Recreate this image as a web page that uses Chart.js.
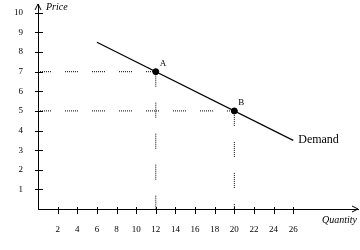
<!DOCTYPE html>
<html lang="en">
<head>
    <meta charset="UTF-8">
    <title>Demand</title>
    <script src="https://cdn.jsdelivr.net/npm/chart.js"></script>
    <style>
        * { margin: 0; padding: 0; box-sizing: border-box; }
        body { background: #fff; width: 360px; height: 250px; overflow: hidden; }
        #chart { display: block; }
    </style>
</head>
<body>
    <canvas id="chart" width="360" height="250"></canvas>

    <script>
        // values
        const demandQ = [6, 26];
        const demandP = [8.5, 3.5];
        const pointNames = ['A', 'B'];
        const pointQ = [12, 20];
        const pointP = [7, 5];
        const xTicks = [2, 4, 6, 8, 10, 12, 14, 16, 18, 20, 22, 24, 26, 28, 30];
        const xTickLabels = [2, 4, 6, 8, 10, 12, 14, 16, 18, 20, 22, 24, 26];
        const yTicks = [1, 2, 3, 4, 5, 6, 7, 8, 9, 10];

        const serif = "'Liberation Serif', 'Times New Roman', serif";
        const hDash = [1, 1, 1, 1, 1, 1, 1, 1, 1, 1, 1, 1, 1, 14];
        const vDash = [1, 1, 1, 1, 1, 1, 1, 1, 1, 1, 1, 1, 1, 1, 1, 16];

        // dotted guides from each point to the axes
        const guides = [];
        pointQ.forEach((q, i) => {
            guides.push({ data: [{ x: 0, y: pointP[i] }, { x: q, y: pointP[i] }], borderDash: hDash });
            guides.push({ data: [{ x: q, y: pointP[i] }, { x: q, y: 0 }], borderDash: vDash });
        });

        const axisDecor = {
            id: 'axisDecor',
            afterDraw(chart) {
                const c = chart.ctx, xs = chart.scales.x, ys = chart.scales.y;
                const x0 = xs.getPixelForValue(0), y0 = ys.getPixelForValue(0);
                const xEnd = chart.chartArea.right, yEnd = chart.chartArea.top;
                c.save();
                c.strokeStyle = '#000';
                c.lineWidth = 1;
                c.beginPath();
                // cross ticks
                xs.ticks.forEach(t => {
                    const px = Math.round(xs.getPixelForValue(t.value)) + 0.5;
                    c.moveTo(px, y0 - 2); c.lineTo(px, y0 + 5);
                });
                ys.ticks.forEach(t => {
                    const py = Math.round(ys.getPixelForValue(t.value)) + 0.5;
                    c.moveTo(x0 - 3, py); c.lineTo(x0 + 5, py);
                });
                // arrow heads
                c.moveTo(x0 - 3, yEnd + 6); c.lineTo(x0, yEnd); c.lineTo(x0 + 3, yEnd + 6);
                c.moveTo(xEnd - 6, y0 - 3); c.lineTo(xEnd, y0); c.lineTo(xEnd - 6, y0 + 3);
                c.stroke();

                c.fillStyle = '#000';
                c.textBaseline = 'middle';
                c.font = 'italic 10px ' + serif;
                c.fillText('Price', x0 + 8, yEnd + 3);
                c.fillText('Quantity', xEnd - 36, y0 + 11);
                c.font = '9px ' + serif;
                pointNames.forEach((n, i) => {
                    c.fillText(n, xs.getPixelForValue(pointQ[i]) + 4, ys.getPixelForValue(pointP[i]) - 8);
                });
                c.font = '12px ' + serif;
                c.fillText('Demand', xs.getPixelForValue(demandQ[1]) + 5, ys.getPixelForValue(demandP[1]));
                c.restore();
            }
        };

        new Chart(document.getElementById('chart'), {
            type: 'scatter',
            data: {
                datasets: [
                    ...guides.map(g => ({
                        data: g.data, showLine: true, borderColor: '#000', borderWidth: 1,
                        borderDash: g.borderDash, pointRadius: 0
                    })),
                    {
                        data: demandQ.map((q, i) => ({ x: q, y: demandP[i] })),
                        showLine: true, borderColor: '#000', borderWidth: 1.2, pointRadius: 0
                    },
                    {
                        data: pointQ.map((q, i) => ({ x: q, y: pointP[i] })),
                        showLine: false, pointRadius: 3, backgroundColor: '#000', borderColor: '#000'
                    }
                ]
            },
            options: {
                responsive: false,
                animation: false,
                devicePixelRatio: 1,
                layout: { autoPadding: false, padding: { left: 0, top: 4, right: 2, bottom: 0 } },
                plugins: { legend: { display: false }, tooltip: { enabled: false } },
                scales: {
                    x: {
                        type: 'linear', min: 0, max: 32.6,
                        grid: { display: false },
                        border: { color: '#000', width: 1 },
                        afterBuildTicks: s => { s.ticks = xTicks.map(v => ({ value: v })); },
                        afterFit: s => { s.height = 41; s.paddingLeft = 0; s.paddingRight = 0; },
                        ticks: {
                            color: '#000', padding: 7, maxRotation: 0, autoSkip: false,
                            font: { family: serif, size: 9 },
                            callback: v => xTickLabels.includes(v) ? String(v) : null
                        }
                    },
                    y: {
                        type: 'linear', min: 0, max: 10.45,
                        grid: { display: false },
                        border: { color: '#000', width: 1 },
                        afterBuildTicks: s => { s.ticks = yTicks.map(v => ({ value: v })); },
                        afterFit: s => { s.width = 38; s.paddingTop = 0; s.paddingBottom = 0; },
                        ticks: {
                            color: '#000', padding: 7, autoSkip: false,
                            font: { family: serif, size: 9 }
                        }
                    }
                }
            },
            plugins: [axisDecor]
        });
    </script>
</body>
</html>
